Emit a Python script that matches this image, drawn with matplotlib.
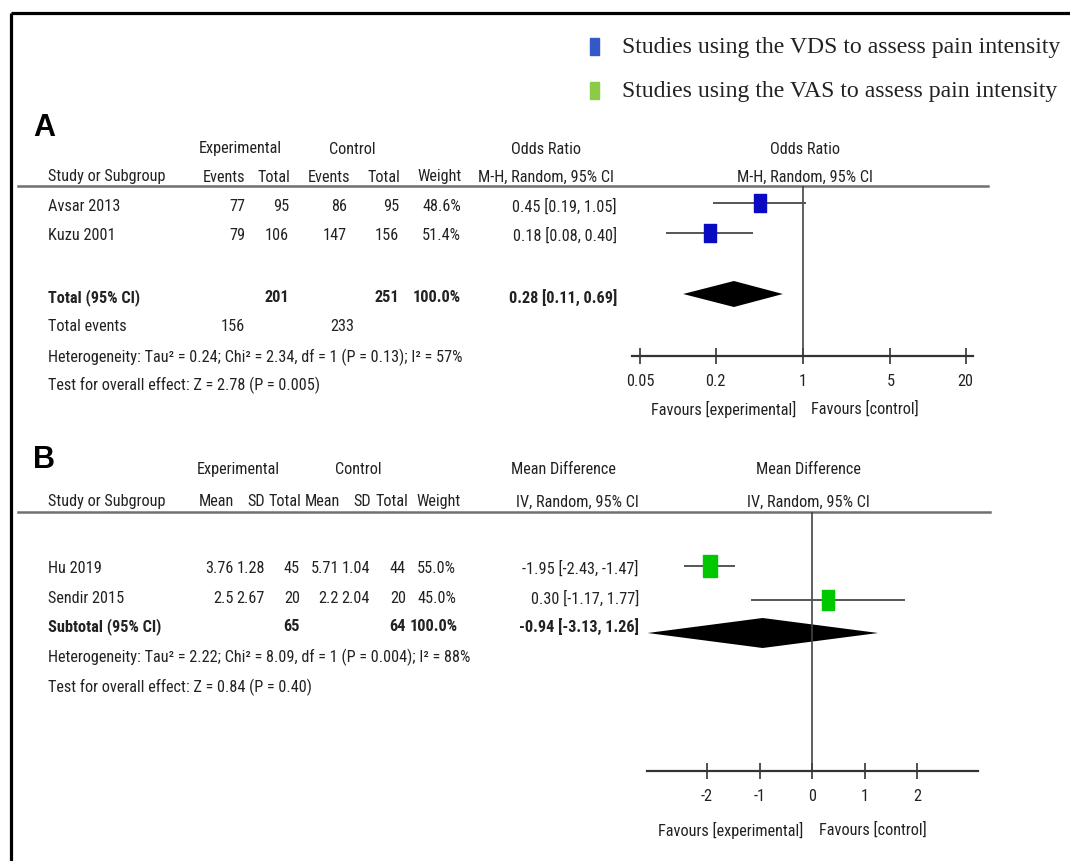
import matplotlib
matplotlib.use("Agg")
import matplotlib.pyplot as plt
from matplotlib import font_manager
from matplotlib.font_manager import FontProperties
from matplotlib.path import Path
from matplotlib.patches import Rectangle

# ---------------- data ----------------
# Panel A: dichotomous outcome (odds ratio)
a_studies = ["Avsar 2013", "Kuzu 2001"]
a_exp_events = [77, 79]
a_exp_total = [95, 106]
a_ctl_events = [86, 147]
a_ctl_total = [95, 156]
a_weight = [48.6, 51.4]
a_or = [0.45, 0.18]
a_lo = [0.19, 0.08]
a_hi = [1.05, 0.40]
a_pooled = [0.28, 0.11, 0.69]
a_tot_n = [201, 251]
a_tot_events = [156, 233]
a_ticks = [0.05, 0.2, 1, 5, 20]
a_ticklabels = ["0.05", "0.2", "1", "5", "20"]
a_het = "Heterogeneity: Tau\u00b2 = 0.24; Chi\u00b2 = 2.34, df = 1 (P = 0.13); I\u00b2 = 57%"
a_test = "Test for overall effect: Z = 2.78 (P = 0.005)"

# Panel B: continuous outcome (mean difference)
b_studies = ["Hu 2019", "Sendir 2015"]
b_exp_mean = [3.76, 2.5]
b_exp_sd = [1.28, 2.67]
b_exp_n = [45, 20]
b_ctl_mean = [5.71, 2.2]
b_ctl_sd = [1.04, 2.04]
b_ctl_n = [44, 20]
b_weight = [55.0, 45.0]
b_md = [-1.95, 0.30]
b_lo = [-2.43, -1.17]
b_hi = [-1.47, 1.77]
b_pooled = [-0.94, -3.13, 1.26]
b_tot_n = [65, 64]
b_ticks = [-2, -1, 0, 1, 2]
b_ticklabels = ["-2", "-1", "0", "1", "2"]
b_het = "Heterogeneity: Tau\u00b2 = 2.22; Chi\u00b2 = 8.09, df = 1 (P = 0.004); I\u00b2 = 88%"
b_test = "Test for overall effect: Z = 0.84 (P = 0.40)"

legend_labels = ["Studies using the VDS to assess pain intensity",
                 "Studies using the VAS to assess pain intensity"]
legend_colors = ["#3558c8", "#8ccb45"]

# ---------------- fonts ----------------
_ttf = font_manager.fontManager.ttflist


def _weight(f):
    w = f.weight
    if isinstance(w, str):
        w = font_manager.weight_dict.get(w, 400)
    return w


_candidates = [
    ("Liberation Sans Narrow", None),
    ("Arial Narrow", None),
    ("Roboto Condensed", None),
    ("Noto Sans Condensed", None),
    ("Noto Sans", "condensed"),
    ("Open Sans Condensed", None),
    ("Open Sans", "condensed"),
    ("DejaVu Sans", "condensed"),
    ("Liberation Sans", "normal"),
]


def _pick_narrow():
    for name, stretch in _candidates:
        hits = [f for f in _ttf if f.name == name and f.style == "normal"
                and (stretch is None or f.stretch == stretch)]
        reg = [f for f in hits if _weight(f) < 600]
        bold = [f for f in hits if _weight(f) >= 600]
        if reg:
            reg.sort(key=lambda f: abs(_weight(f) - 400))
            bold.sort(key=lambda f: abs(_weight(f) - 700))
            return reg[0].fname, (bold[0].fname if bold else reg[0].fname)
    return None, None


REG_FILE, BOLD_FILE = _pick_narrow()
TCOL = "#222222"

W, H = 1070, 862
fig = plt.figure(figsize=(W / 100, H / 100), dpi=100)
renderer = fig.canvas.get_renderer()


def fp(bold=False, size=10.0):
    f = BOLD_FILE if bold else REG_FILE
    if f is None:
        return FontProperties(family="DejaVu Sans", weight="bold" if bold else "normal",
                              size=size)
    return FontProperties(fname=f, size=size)


def fit_size(s, target_px, props):
    probe = fig.text(0, 0, s, fontproperties=props)
    w = probe.get_window_extent(renderer).width
    probe.remove()
    return props.get_size_in_points() * target_px / w


# table text sized so that the heterogeneity line spans its column width
TSIZE = fit_size(a_het, 412, fp(False, 10))
LSIZE = fit_size(legend_labels[0], 440, FontProperties(family="Liberation Serif", size=15))

bg = fig.add_axes([0, 0, 1, 1])
bg.set_xlim(0, W)
bg.set_ylim(H, 0)
bg.axis("off")


def px_axes(x0, y0, x1, y1):
    return fig.add_axes([x0 / W, 1 - y1 / H, (x1 - x0) / W, (y1 - y0) / H])


def t(x, y, s, ha="left", bold=False):
    bg.text(x, y, s, ha=ha, va="center", fontproperties=fp(bold, TSIZE), color=TCOL)


# outer frame (top and left)
bg.plot([11, W], [14, 14], color="black", lw=2.3, solid_capstyle="butt")
bg.plot([11, 11], [14, H], color="black", lw=2.3, solid_capstyle="butt")

# legend
for i, (lab, col) in enumerate(zip(legend_labels, legend_colors)):
    yc = 47 + 44 * i
    bg.add_patch(Rectangle((590, yc - 8.5), 9, 17, color=col))
    bg.text(622, yc, lab, ha="left", va="center", fontsize=LSIZE,
            family="Liberation Serif", color="#222222")

# vertical rectangle marker for study estimates
rect_marker = Path([(-0.32, -0.5), (0.32, -0.5), (0.32, 0.5), (-0.32, 0.5), (-0.32, -0.5)],
                   [Path.MOVETO, Path.LINETO, Path.LINETO, Path.LINETO, Path.CLOSEPOLY])


def style_forest(ax, ticks, labels):
    for s in ("top", "left", "right"):
        ax.spines[s].set_visible(False)
    ax.spines["bottom"].set_linewidth(1.6)
    ax.spines["bottom"].set_color("#333333")
    ax.set_yticks([])
    ax.set_xticks(ticks)
    ax.set_xticklabels(labels)
    ax.minorticks_off()
    ax.tick_params(axis="x", direction="inout", length=12, width=1.2,
                   color="#333333", pad=6, labelcolor=TCOL)
    for lbl in ax.get_xticklabels():
        lbl.set_fontproperties(fp(False, TSIZE))
    ax.patch.set_alpha(0)


# ================= Panel A =================
bg.text(33, 128, "A", ha="left", va="center", fontsize=22, fontweight="bold",
        family="Liberation Sans", color="black")
t(240, 149, "Experimental", ha="center")
t(352, 149, "Control", ha="center")
t(546, 149, "Odds Ratio", ha="center")
t(805, 149, "Odds Ratio", ha="center")

hy = 177
t(48, hy, "Study or Subgroup")
t(245, hy, "Events", ha="right")
t(290, hy, "Total", ha="right")
t(350, hy, "Events", ha="right")
t(400, hy, "Total", ha="right")
t(462, hy, "Weight", ha="right")
t(546, hy, "M-H, Random, 95% CI", ha="center")
t(805, hy, "M-H, Random, 95% CI", ha="center")
bg.plot([18, 988], [187, 187], color="#707070", lw=1.8)

a_rows = [207, 236]
for i, y in enumerate(a_rows):
    t(48, y, a_studies[i])
    t(245, y, f"{a_exp_events[i]}", ha="right")
    t(289, y, f"{a_exp_total[i]}", ha="right")
    t(347, y, f"{a_ctl_events[i]}", ha="right")
    t(399, y, f"{a_ctl_total[i]}", ha="right")
    t(461, y, f"{a_weight[i]:.1f}%", ha="right")
    t(617, y, f"{a_or[i]:.2f} [{a_lo[i]:.2f}, {a_hi[i]:.2f}]", ha="right")

ty = 298
t(48, ty, "Total (95% CI)", bold=True)
t(289, ty, f"{a_tot_n[0]}", ha="right", bold=True)
t(399, ty, f"{a_tot_n[1]}", ha="right", bold=True)
t(461, ty, f"{sum(a_weight):.1f}%", ha="right", bold=True)
t(617, ty, f"{a_pooled[0]:.2f} [{a_pooled[1]:.2f}, {a_pooled[2]:.2f}]", ha="right", bold=True)
t(48, 327, "Total events")
t(245, 327, f"{a_tot_events[0]}", ha="right")
t(354, 327, f"{a_tot_events[1]}", ha="right")
t(48, 357, a_het)
t(48, 385, a_test)
t(796, 409, "Favours [experimental]", ha="right")
t(811, 409, "Favours [control]", ha="left")

# forest plot A: log scale, 1 at x=803 px, 125 px per decade
axA = px_axes(632, 187, 973, 357)
axA.set_xscale("log")
axA.set_xlim(10 ** ((632 - 803) / 125), 10 ** ((973 - 803) / 125))
axA.set_ylim(357, 187)
style_forest(axA, a_ticks, a_ticklabels)
axA.axvline(1, color="#444444", lw=1.2)
a_mark_y = [204, 234]
axA.hlines(a_mark_y, a_lo, a_hi, color="#555555", lw=1.4)
axA.plot(a_or, a_mark_y, linestyle="none", marker=rect_marker, ms=13,
         color="#0a0ac0", mec="#0a0ac0")
est, lo, hi = a_pooled
yd = 295
axA.fill([lo, est, hi, est], [yd, yd - 13, yd, yd + 13], color="black", lw=0)

# ================= Panel B =================
bg.text(33, 460, "B", ha="left", va="center", fontsize=22, fontweight="bold",
        family="Liberation Sans", color="black")
t(238, 470, "Experimental", ha="center")
t(358, 470, "Control", ha="center")
t(563, 470, "Mean Difference", ha="center")
t(808, 470, "Mean Difference", ha="center")

hy = 502
t(48, hy, "Study or Subgroup")
t(234, hy, "Mean", ha="right")
t(265, hy, "SD", ha="right")
t(301, hy, "Total", ha="right")
t(340, hy, "Mean", ha="right")
t(371, hy, "SD", ha="right")
t(408, hy, "Total", ha="right")
t(461, hy, "Weight", ha="right")
t(639, hy, "IV, Random, 95% CI", ha="right")
t(808, hy, "IV, Random, 95% CI", ha="center")
bg.plot([18, 990], [513, 513], color="#707070", lw=1.8)

b_rows = [569, 599]
for i, y in enumerate(b_rows):
    t(48, y, b_studies[i])
    t(234, y, f"{b_exp_mean[i]:g}", ha="right")
    t(265, y, f"{b_exp_sd[i]:g}", ha="right")
    t(300, y, f"{b_exp_n[i]}", ha="right")
    t(339, y, f"{b_ctl_mean[i]:g}", ha="right")
    t(370, y, f"{b_ctl_sd[i]:g}", ha="right")
    t(406, y, f"{b_ctl_n[i]}", ha="right")
    t(456, y, f"{b_weight[i]:.1f}%", ha="right")
    t(639, y, f"{b_md[i]:.2f} [{b_lo[i]:.2f}, {b_hi[i]:.2f}]", ha="right")

ty = 627
t(48, ty, "Subtotal (95% CI)", bold=True)
t(300, ty, f"{b_tot_n[0]}", ha="right", bold=True)
t(406, ty, f"{b_tot_n[1]}", ha="right", bold=True)
t(458, ty, f"{sum(b_weight):.1f}%", ha="right", bold=True)
t(639, ty, f"{b_pooled[0]:.2f} [{b_pooled[1]:.2f}, {b_pooled[2]:.2f}]", ha="right", bold=True)
t(48, 657, b_het)
t(48, 687, b_test)
t(803, 830, "Favours [experimental]", ha="right")
t(819, 830, "Favours [control]", ha="left")

# forest plot B: linear scale, 0 at x=812 px, 52.5 px per unit
axB = px_axes(647, 513, 978, 772)
axB.set_xlim((647 - 812) / 52.5, (978 - 812) / 52.5)
axB.set_ylim(772, 513)
style_forest(axB, b_ticks, b_ticklabels)
axB.axvline(0, color="#444444", lw=1.2)
b_mark_y = [567, 601]
axB.hlines(b_mark_y, b_lo, b_hi, color="#555555", lw=1.4)
for x, y, ms in zip(b_md, b_mark_y, [16, 14]):
    axB.plot([x], [y], linestyle="none", marker=rect_marker, ms=ms,
             color="#00c800", mec="#00c800")
est, lo, hi = b_pooled
yd = 634
axB.fill([lo, est, hi, est], [yd, yd - 15, yd, yd + 15], color="black", lw=0)

fig.savefig("out.png", dpi=100, facecolor="white")
